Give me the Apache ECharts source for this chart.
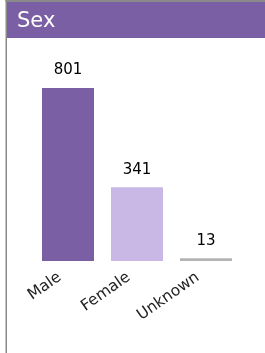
<!DOCTYPE html>
<html>
<head>
<meta charset="utf-8">
<script src="https://cdn.jsdelivr.net/npm/echarts@6/dist/echarts.min.js"></script>
<style>
  html, body { margin: 0; padding: 0; background: #fff; }
  #chart { width: 265px; height: 353px; }
</style>
</head>
<body>
<div id="chart"></div>
<script>
// data
const categories = ["Male", "Female", "Unknown"];
const counts = [801, 341, 13];
const barColors = ["#7b5fa5", "#c9b8e6", "#b3b3b3"];
const titleText = "Sex";

const chart = echarts.init(document.getElementById("chart"));

const option = {
  animation: false,
  textStyle: { fontFamily: "DejaVu Sans" },
  graphic: [
    // panel border (left + top)
    { type: "rect", shape: { x: 5.5, y: 0, width: 1.5, height: 353 }, style: { fill: "#8a8a8a" } },
    { type: "rect", shape: { x: 5.5, y: 0, width: 260, height: 2 }, style: { fill: "#8a8a8a" } },
    // header band
    { type: "rect", shape: { x: 7, y: 2, width: 258, height: 36 }, style: { fill: "#7b5fa5" } },
  ],
  title: {
    text: titleText,
    left: 12,
    top: 6,
    textStyle: { color: "#fff", fontSize: 21, fontWeight: "normal", fontFamily: "DejaVu Sans" },
  },
  grid: { left: 33.5, right: 24.5, top: 88, bottom: 92 },
  xAxis: {
    type: "category",
    data: categories,
    axisLine: { show: false },
    axisTick: { show: false },
    axisLabel: {
      rotate: 35,
      margin: 9,
      padding: [0, 10, 0, 0],
      color: "#222",
      fontSize: 15.5,
      interval: 0,
    },
  },
  yAxis: {
    type: "value",
    min: 0,
    max: 801,
    show: false,
    splitLine: { show: false },
  },
  series: [
    {
      type: "bar",
      barWidth: 52,
      data: counts.map((v, i) => ({ value: v, itemStyle: { color: barColors[i] } })),
      label: {
        show: true,
        position: "top",
        distance: 10,
        color: "#000",
        fontSize: 15,
      },
    },
  ],
};

chart.setOption(option);
</script>
</body>
</html>
